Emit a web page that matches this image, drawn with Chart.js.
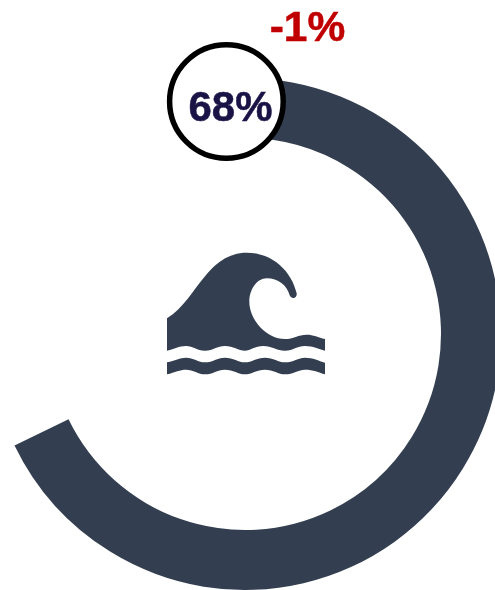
<!DOCTYPE html>
<html>
<head>
<meta charset="utf-8">
<script src="https://cdn.jsdelivr.net/npm/chart.js@4"></script>
<style>
  html, body { margin: 0; padding: 0; background: #fff; overflow: hidden; }
  canvas { display: block; }
</style>
</head>
<body>
<canvas id="grafico" width="495" height="590"></canvas>
<script>
const categorias = ['Atual', 'Restante'];
const valores = [68, 32];
const variacao = [-1];

const corAnel = '#333f50';

// onda desenhada nas coordenadas do zoom (3x), origem em 150,240
const ondaCima = 'M51 235C100 205 130 150 160 115C195 70 235 38 290 38C370 38 425 95 440 160C442 175 425 180 419 166' +
    'C410 135 385 115 350 115C320 115 298 150 298 185C298 240 350 297 405 297C430 297 445 284 470 284C490 284 505 292 525 297' +
    'L525 332C505 327 490 318 465 318C440 318 430 332 405 332C380 332 365 318 340 318C315 318 300 332 285 332' +
    'C265 332 250 318 225 318C200 318 190 332 165 332C140 332 130 318 108 318C85 318 75 327 51 332Z';
const ondaBaixo = 'M51 367C75 362 90 353 108 353C130 353 145 367 165 367C190 367 200 353 225 353C250 353 265 367 285 367' +
    'C305 367 320 353 345 353C370 353 385 367 405 367C430 367 445 353 465 353C490 353 505 362 525 368' +
    'L525 403C505 397 490 389 465 389C445 389 430 403 405 403C385 403 370 389 345 389C320 389 305 403 285 403' +
    'C265 403 250 389 225 389C200 389 190 403 165 403C145 403 130 389 108 389C90 389 75 397 51 403Z';

function textoForte(ctx, texto, x, y, cor) {
    ctx.fillStyle = cor;
    ctx.strokeStyle = cor;
    ctx.lineWidth = 0.5;
    ctx.fillText(texto, x, y);
    ctx.strokeText(texto, x, y);
}

const extras = {
    id: 'extras',
    afterDraw(chart) {
        const ctx = chart.ctx;
        ctx.save();

        // icone
        ctx.save();
        ctx.translate(150, 240);
        ctx.scale(1 / 3, 1 / 3);
        ctx.fillStyle = corAnel;
        ctx.fill(new Path2D(ondaCima));
        ctx.fill(new Path2D(ondaBaixo));
        ctx.restore();

        // circulo do valor
        ctx.beginPath();
        ctx.arc(226.4, 101.5, 56.8, 0, Math.PI * 2);
        ctx.fillStyle = '#fff';
        ctx.fill();
        ctx.lineWidth = 5.5;
        ctx.strokeStyle = '#000';
        ctx.stroke();

        ctx.textAlign = 'center';
        ctx.textBaseline = 'alphabetic';
        ctx.font = 'bold 42px "Liberation Sans"';
        textoForte(ctx, valores[0] + '%', 230.5, 121, '#1a1446');

        ctx.font = 'bold 42.5px "Liberation Sans"';
        textoForte(ctx, variacao[0] + '%', 307.5, 41, '#c00000');

        ctx.restore();
    }
};

new Chart(document.getElementById('grafico'), {
    type: 'doughnut',
    data: {
        labels: categorias,
        datasets: [{
            data: valores,
            backgroundColor: [corAnel, 'rgba(0,0,0,0)'],
            borderWidth: 0
        }]
    },
    options: {
        responsive: false,
        animation: false,
        radius: 256,
        cutout: '76.56%',
        rotation: -0.6,
        layout: { padding: { left: 0, right: 5, top: 78, bottom: 0 } },
        plugins: {
            legend: { display: false },
            tooltip: { enabled: false }
        }
    },
    plugins: [extras]
});
</script>
</body>
</html>
